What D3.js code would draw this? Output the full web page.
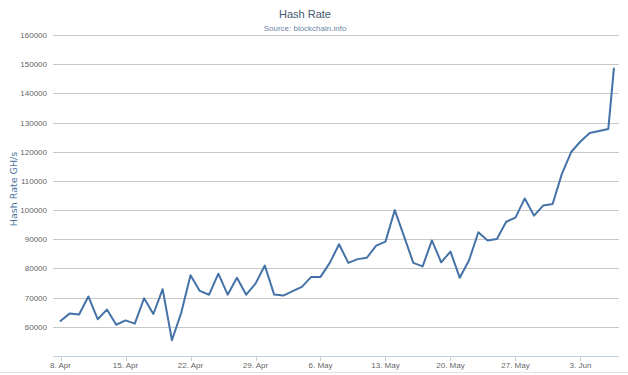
<!DOCTYPE html>
<html>
<head>
<meta charset="utf-8">
<script src="https://cdn.jsdelivr.net/npm/d3@7"></script>
<style>
  html, body { margin: 0; padding: 0; background: #fff; }
  svg { display: block; font-family: "Liberation Sans", Arial, sans-serif; }
</style>
</head>
<body>
<svg id="chart" width="628" height="375"></svg>
<script>
// ---- data ----
const titleText = "Hash Rate";
const subtitleText = "Source: blockchain.info";
const yAxisTitle = "Hash Rate GH/s";
const startDate = "2013-04-08";
// day offsets from start date for each point (daily, last one is a partial day)
const dayOffsets = [0,1,2,3,4,5,6,7,8,9,10,11,12,13,14,15,16,17,18,19,20,21,22,23,24,25,26,27,28,29,
  30,31,32,33,34,35,36,37,38,39,40,41,42,43,44,45,46,47,48,49,50,51,52,53,54,55,56,57,58,59,59.6];
const hashRate = [62000,64600,64200,70400,62600,65900,60700,62200,61100,69800,
  64400,72900,55400,64800,77700,72300,71000,78200,71000,76800,
  71000,74800,81000,71100,70700,72200,73700,77100,77100,81900,
  88300,81900,83200,83700,87800,89200,100000,91000,81900,80700,
  89600,82100,85800,76800,82800,92400,89600,90100,96000,97400,
  104000,98100,101600,102100,112400,119900,123500,126400,127100,127800,148500];
const yTicks = [60000,70000,80000,90000,100000,110000,120000,130000,140000,150000,160000];
const xTickDates = ["2013-04-08","2013-04-15","2013-04-22","2013-04-29","2013-05-06","2013-05-13","2013-05-20","2013-05-27","2013-06-03"];
const xTickLabels = ["8. Apr","15. Apr","22. Apr","29. Apr","6. May","13. May","20. May","27. May","3. Jun"];

// ---- layout ----
const W = 628, H = 375;
const plot = { left: 53, right: 619, top: 35, bottom: 356 };
const DAY = 864e5;
const t0 = Date.parse(startDate + "T00:00:00Z");

const x = d3.scaleUtc()
  .domain([new Date(t0 - 0.81 * DAY), new Date(t0 + 60.15 * DAY)])
  .range([plot.left, plot.right]);
const y = d3.scaleLinear().domain([50000, 160000]).range([plot.bottom, plot.top]);

const svg = d3.select("#chart");

// bottom border line
svg.append("line")
  .attr("x1", 0).attr("x2", W).attr("y1", 372.5).attr("y2", 372.5)
  .attr("stroke", "#e2e2e2").attr("stroke-width", 1);

// grid lines
svg.append("g").selectAll("line").data(yTicks).join("line")
  .attr("x1", plot.left).attr("x2", plot.right)
  .attr("y1", d => Math.round(y(d)) + 0.5).attr("y2", d => Math.round(y(d)) + 0.5)
  .attr("stroke", "#C8C8C8").attr("stroke-width", 1);

// y labels
svg.append("g").selectAll("text").data(yTicks).join("text")
  .attr("x", 47).attr("y", d => y(d) + 3)
  .attr("text-anchor", "end")
  .attr("font-size", "8px").attr("fill", "#666")
  .text(d => d);

// y axis title
svg.append("text")
  .attr("transform", `translate(17,189) rotate(-90)`)
  .attr("text-anchor", "middle")
  .attr("font-family", "'DejaVu Sans', sans-serif")
  .attr("font-size", "9.5px").attr("fill", "#4d759e")
  .text(yAxisTitle);

// x axis
const xAxisG = svg.append("g").attr("transform", `translate(0,${plot.bottom})`);
const xTicks = xTickDates.map(s => new Date(s + "T00:00:00Z"));
xAxisG.append("line")
  .attr("x1", plot.left).attr("x2", plot.right).attr("y1", 0.5).attr("y2", 0.5)
  .attr("stroke", "#C0D0E0");
xAxisG.selectAll("line.tick").data(xTicks).join("line").attr("class", "tick")
  .attr("x1", d => Math.round(x(d)) + 0.5).attr("x2", d => Math.round(x(d)) + 0.5)
  .attr("y1", 0).attr("y2", 5).attr("stroke", "#C0D0E0");
xAxisG.selectAll("text").data(xTicks).join("text")
  .attr("x", d => x(d)).attr("y", 11.5)
  .attr("text-anchor", "middle")
  .attr("font-size", "8px").attr("fill", "#666")
  .text((d, i) => xTickLabels[i]);

// line
const pts = hashRate.map((v, i) => ({ t: new Date(t0 + dayOffsets[i] * DAY), v }));
svg.append("path").datum(pts)
  .attr("fill", "none").attr("stroke", "#4572A7").attr("stroke-width", 2)
  .attr("stroke-linejoin", "round").attr("stroke-linecap", "round")
  .attr("d", d3.line().x(d => x(d.t)).y(d => y(d.v)));

// titles
svg.append("text").attr("x", 305).attr("y", 18).attr("text-anchor", "middle")
  .attr("font-size", "11px").attr("fill", "#3E576F").text(titleText);
svg.append("text").attr("x", 305).attr("y", 31).attr("text-anchor", "middle")
  .attr("font-size", "8px").attr("fill", "#6D869F").text(subtitleText);
</script>
</body>
</html>
